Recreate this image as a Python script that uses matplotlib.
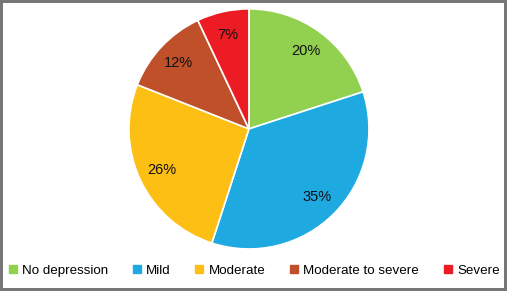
import matplotlib.pyplot as plt
from matplotlib.lines import Line2D

# data
labels = ["No depression", "Mild", "Moderate", "Moderate to severe", "Severe"]
values = [20, 35, 26, 12, 7]
colors = ["#92D050", "#1FA9E1", "#FDBF14", "#C0502A", "#ED1C24"]

plt.rcParams["font.family"] = ["Liberation Sans", "DejaVu Sans"]

fig = plt.figure(figsize=(5.07, 2.91), dpi=100)
fig.patch.set_edgecolor("#777777")
fig.patch.set_linewidth(3)

ax = fig.add_axes([0.491 - 0.825 * 291 / 507 / 2, 0.557 - 0.825 / 2,
                   0.825 * 291 / 507, 0.825])
ax.pie(
    values,
    colors=colors,
    startangle=90,
    counterclock=False,
    autopct="%d%%",
    pctdistance=0.8,
    wedgeprops=dict(edgecolor="white", linewidth=1.2),
    textprops=dict(fontsize=10.5, color="#111111"),
)
ax.set_xlim(-1, 1)
ax.set_ylim(-1, 1)
ax.set_aspect("equal")

handles = [
    Line2D([], [], marker="s", linestyle="", markersize=6,
           markerfacecolor=c, markeredgecolor=c)
    for c in colors
]
fig.legend(
    handles,
    labels,
    loc="center",
    bbox_to_anchor=(0.5, 0.07),
    ncol=5,
    frameon=False,
    fontsize=9.6,
    handlelength=0.8,
    handletextpad=0.3,
    columnspacing=1.75,
)

fig.savefig("out.png", dpi=100)
